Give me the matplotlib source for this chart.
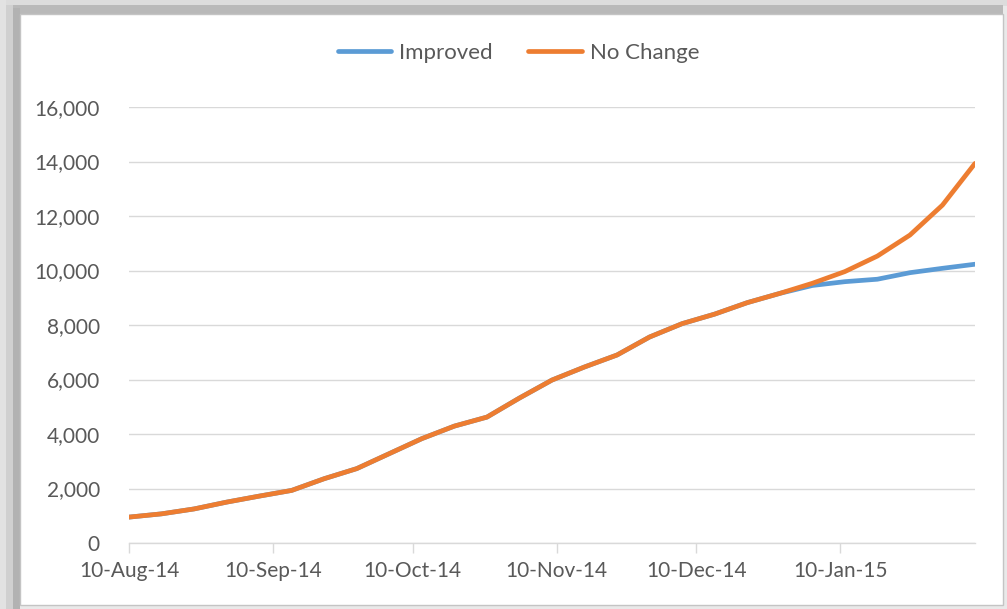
import matplotlib
matplotlib.use("Agg")
import matplotlib.pyplot as plt
import matplotlib.dates as mdates
from matplotlib.patches import Rectangle
from matplotlib.ticker import FuncFormatter
import pandas as pd

dates = pd.date_range("2014-08-10", periods=27, freq="7D")
improved = [950, 1070, 1250, 1500, 1720, 1930, 2360, 2730, 3280, 3830, 4290, 4620,
            5320, 5980, 6460, 6900, 7560, 8050, 8400, 8820, 9160, 9450, 9590, 9680,
            9920, 10080, 10230]
no_change = [950, 1070, 1250, 1500, 1720, 1930, 2360, 2730, 3280, 3830, 4290, 4620,
             5320, 5980, 6460, 6900, 7560, 8050, 8400, 8820, 9160, 9530, 9960, 10530,
             11300, 12400, 13930]
tick_dates = ["2014-08-10", "2014-09-10", "2014-10-10", "2014-11-10", "2014-12-10", "2015-01-10"]
yticks = [0, 2000, 4000, 6000, 8000, 10000, 12000, 14000, 16000]

plt.rcParams['font.family'] = ['Lato', 'DejaVu Sans']
W, H = 1007, 609
fig = plt.figure(figsize=(W/100, H/100), dpi=100)
fig.patch.set_facecolor("#e9e9e9")


def px_rect(x0, y0, x1, y1, **kw):
    fig.patches.append(Rectangle((x0/W, 1-y1/H), (x1-x0)/W, (y1-y0)/H,
                                 transform=fig.transFigure, **kw))


# shadowed frame
px_rect(0, 0, W, 6, facecolor="#dcdcdc", edgecolor="none", zorder=-3)
px_rect(6, 5, W-4, 14, facecolor="#b9b9b9", edgecolor="none", zorder=-3)
px_rect(0, 0, 6, H, facecolor="#e2e2e2", edgecolor="none", zorder=-3)
px_rect(6, 5, 13, H, facecolor="#d0d0d0", edgecolor="none", zorder=-3)
px_rect(13, 8, 20, H, facecolor="#b2b2b2", edgecolor="none", zorder=-3)
px_rect(20, 14, 1003, 605, facecolor="white", edgecolor="#c4c4c4", lw=1, zorder=-2)

ax = fig.add_axes([129/W, 1-543/H, (975-129)/W, (543-107)/H])
ax.set_zorder(2)
ax.patch.set_alpha(0)
ax.plot(dates, improved, color="#5B9BD5", lw=3.4, label="Improved", solid_capstyle="round", zorder=3)
ax.plot(dates, no_change, color="#ED7D31", lw=3.4, label="No Change", solid_capstyle="round", zorder=4)

ax.set_xlim(dates[0], dates[-1])
ax.set_ylim(0, 16000)
ax.set_yticks(yticks)
ax.yaxis.set_major_formatter(FuncFormatter(lambda v, p: f"{int(v):,}"))
ax.set_xticks(pd.to_datetime(tick_dates))
ax.xaxis.set_major_formatter(mdates.DateFormatter("%d-%b-%y"))

ax.grid(axis="y", color="#D9D9D9", lw=1)
ax.set_axisbelow(True)
for s in ["top", "right", "left"]:
    ax.spines[s].set_visible(False)
ax.spines["bottom"].set_color("#D9D9D9")
ax.spines["bottom"].set_linewidth(1)
ax.tick_params(axis="y", length=0, pad=21, labelsize=15, labelcolor="#595959")
ax.tick_params(axis="x", length=7, color="#D9D9D9", width=1, pad=6, labelsize=15, labelcolor="#595959")

leg = fig.legend(loc="center", bbox_to_anchor=(0.515, 1-53/H), ncol=2, frameon=False,
                 fontsize=16, handlelength=2.4, columnspacing=1.6, handletextpad=0.35)
leg.set_zorder(3)
for t in leg.get_texts():
    t.set_color("#595959")

fig.savefig("out.png", dpi=100, facecolor=fig.get_facecolor())
